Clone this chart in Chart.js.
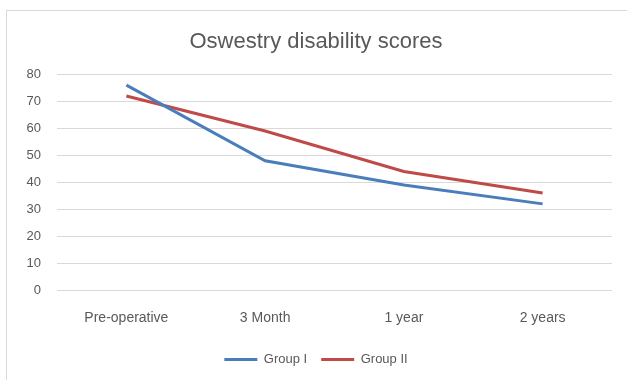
<!DOCTYPE html>
<html>
<head>
<meta charset="utf-8">
<script src="https://cdn.jsdelivr.net/npm/chart.js@4/dist/chart.umd.min.js"></script>
<style>
  html, body { margin: 0; padding: 0; background: #ffffff; }
  #wrap { position: relative; width: 627px; height: 380px; }
</style>
</head>
<body>
<div id="wrap"><canvas id="chart" width="627" height="380"></canvas></div>
<script>
// Follow-up time points
const categories = ["Pre-operative", "3 Month", "1 year", "2 years"];
// Mean Oswestry disability scores per group
const groupI = [76, 48, 39, 32];
const groupII = [72, 59, 44, 36];
// Y axis range and step
const yMin = 0;
const yMax = 80;
const yStep = 10;

const textColor = "#595959";
const fontFamily = "'Liberation Sans', Arial, sans-serif";

// Thin light frame around the chart object
const framePlugin = {
  id: "frame",
  beforeDraw(chart) {
    const ctx = chart.ctx;
    ctx.save();
    ctx.strokeStyle = "#d9d9d9";
    ctx.lineWidth = 1;
    ctx.strokeRect(6.5, 10.5, chart.width + 10, chart.height + 10);
    ctx.restore();
  }
};

new Chart(document.getElementById("chart"), {
  type: "line",
  data: {
    labels: categories,
    datasets: [
      {
        label: "Group I",
        data: groupI,
        borderColor: "#4a7ebb",
        backgroundColor: "#4a7ebb",
        borderWidth: 3,
        pointRadius: 0,
        tension: 0
      },
      {
        label: "Group II",
        data: groupII,
        borderColor: "#be4b48",
        backgroundColor: "#be4b48",
        borderWidth: 3,
        pointRadius: 0,
        tension: 0
      }
    ]
  },
  options: {
    responsive: false,
    animation: false,
    layout: { padding: { left: 20, right: 15, top: 10, bottom: 4 } },
    plugins: {
      title: {
        display: true,
        text: "Oswestry disability scores",
        color: textColor,
        font: { family: fontFamily, size: 22, weight: "normal" },
        padding: { top: 19, bottom: 19 }
      },
      legend: {
        position: "bottom",
        labels: {
          color: textColor,
          font: { family: fontFamily, size: 13 },
          usePointStyle: true,
          pointStyle: "line",
          pointStyleWidth: 33,
          padding: 14
        }
      },
      tooltip: { enabled: false }
    },
    scales: {
      x: {
        offset: true,
        grid: { display: false },
        border: { display: false },
        ticks: {
          color: textColor,
          font: { family: fontFamily, size: 14 },
          padding: 12,
          maxRotation: 0
        }
      },
      y: {
        min: yMin,
        max: yMax,
        grid: { color: "#d9d9d9", lineWidth: 1, drawTicks: false },
        border: { display: false },
        ticks: {
          stepSize: yStep,
          color: textColor,
          font: { family: fontFamily, size: 13 },
          padding: 16
        },
        afterFit(scale) { scale.width = 37; }
      }
    }
  },
  plugins: [framePlugin]
});
</script>
</body>
</html>
